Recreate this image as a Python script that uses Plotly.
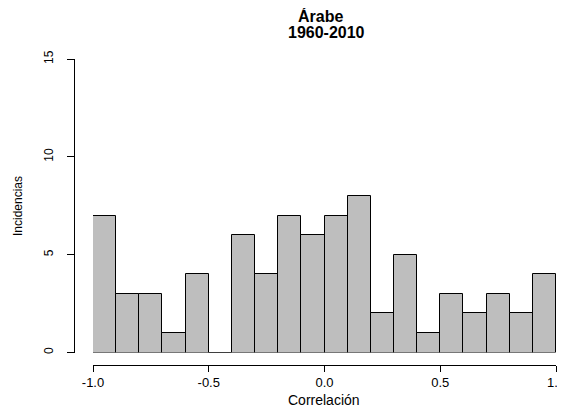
import plotly.graph_objects as go

# Data: histogram of correlations, bins of width 0.1 from -1.0 to 1.0
bin_starts = [-1.0, -0.9, -0.8, -0.7, -0.6, -0.5, -0.4, -0.3, -0.2, -0.1,
              0.0, 0.1, 0.2, 0.3, 0.4, 0.5, 0.6, 0.7, 0.8, 0.9]
counts = [7, 3, 3, 1, 4, 0, 6, 4, 7, 6, 7, 8, 2, 5, 1, 3, 2, 3, 2, 4]
bin_width = 0.1
x_ticks = [-1.0, -0.5, 0.0, 0.5, 1.0]
x_tick_labels = ["-1.0", "-0.5", "0.0", "0.5", "1.0"]
y_ticks = [0, 5, 10, 15]
y_tick_labels = ["0", "5", "10", "15"]
title_lines = ["<b>Árabe</b>", "<b>1960-2010</b>"]
x_label = "Correlación"
y_label = "Incidencias"

W, H = 565, 420
OFF = 8  # page body margin offset
FONT = "Liberation Sans, Arial, Helvetica, sans-serif"

centers = [s + bin_width / 2 for s in bin_starts]

fig = go.Figure()
fig.add_trace(go.Bar(
    x=centers, y=counts, width=bin_width,
    marker=dict(color="#BEBEBE", line=dict(color="black", width=1)),
    hoverinfo="x+y",
))

# pixel geometry (page pixels, then offset)
x_left, x_right = 93 - OFF, 556 - OFF
y_zero, y_top = 352.5 - OFF, 59 - OFF
x_axis_y = 364.5 - OFF
y_axis_x = 74 - OFF


def px(x):
    return (x - OFF) / W


def py(y):
    return (H - (y - OFF)) / H


fig.update_layout(
    width=W, height=H,
    margin=dict(l=0, r=0, t=0, b=0),
    paper_bgcolor="white", plot_bgcolor="white",
    showlegend=False,
    bargap=0,
    font=dict(family=FONT, size=12, color="black"),
    xaxis=dict(
        domain=[x_left / W, x_right / W],
        range=[-1, 1],
        anchor="free", position=(H - x_axis_y) / H,
        showline=True, linecolor="black", linewidth=1,
        ticks="outside", ticklen=6, tickcolor="black", tickwidth=1,
        tickvals=x_ticks, ticktext=x_tick_labels,
        showgrid=False, zeroline=False, automargin=False,
        ticklabelstandoff=0,
        tickfont=dict(family=FONT, size=13, color="black"),
    ),
    yaxis=dict(
        domain=[(H - y_zero) / H, (H - y_top) / H],
        range=[0, 15],
        anchor="free", position=y_axis_x / W,
        showline=True, linecolor="black", linewidth=1,
        ticks="outside", ticklen=7, tickcolor="black", tickwidth=1,
        tickvals=y_ticks, ticktext=y_tick_labels,
        tickangle=-90,
        showgrid=False, zeroline=False, automargin=False,
        ticklabelstandoff=9,
        tickfont=dict(family=FONT, size=12, color="black"),
    ),
    annotations=[
        dict(text=title_lines[0], x=px(320), y=py(16), xref="paper", yref="paper",
             showarrow=False, font=dict(family=FONT, size=16, color="black"),
             xanchor="center", yanchor="middle"),
        dict(text=title_lines[1], x=px(326), y=py(32), xref="paper", yref="paper",
             showarrow=False, font=dict(family=FONT, size=16, color="black"),
             xanchor="center", yanchor="middle"),
        dict(text=x_label, x=px(324), y=py(400), xref="paper", yref="paper",
             showarrow=False, font=dict(family=FONT, size=14, color="black"),
             xanchor="center", yanchor="middle"),
        dict(text=y_label, x=px(18), y=py(206), xref="paper", yref="paper",
             showarrow=False, textangle=-90, font=dict(family=FONT, size=12, color="black"),
             xanchor="center", yanchor="middle"),
    ],
)

fig.write_html("out.html")
